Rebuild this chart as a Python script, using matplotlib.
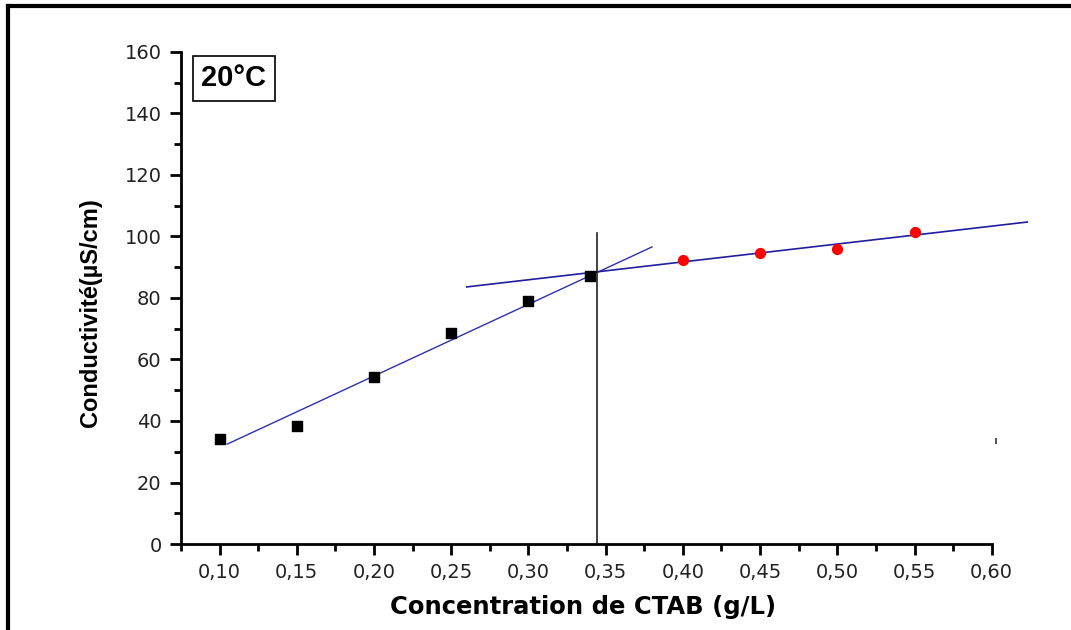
import matplotlib.pyplot as plt
from matplotlib.ticker import MultipleLocator, FuncFormatter
from matplotlib.lines import Line2D

plt.rcParams['font.family'] = ['Liberation Sans', 'DejaVu Sans']

# measured points (pre-CMC in black, post-CMC in red)
conc_low = [0.10, 0.15, 0.20, 0.25, 0.30, 0.34]
cond_low = [34.1, 38.4, 54.3, 68.6, 79.0, 87.2]
conc_high = [0.40, 0.45, 0.50, 0.55]
cond_high = [92.4, 94.6, 95.9, 101.5]

# fitted lines (end points)
fit1_x = [0.105, 0.38]
fit1_y = [32.5, 96.6]
fit2_x = [0.26, 0.623]
fit2_y = [83.6, 104.7]

# CMC marker
cmc_x = 0.3445
cmc_top = 101.1

fig = plt.figure(figsize=(10.71, 6.30), dpi=100)
ax = fig.add_axes([0.169, 0.1365, 0.757, 0.781])

ax.plot(fit1_x, fit1_y, color='#3030b0', lw=1.0, zorder=2)
ax.plot(fit2_x, fit2_y, color='#1f1fa0', lw=1.2, zorder=2, clip_on=False)
ax.plot([cmc_x, cmc_x], [0, cmc_top], color='#222222', lw=1.2, zorder=2)

ax.scatter(conc_low, cond_low, marker='s', s=60, color='black', zorder=3)
ax.scatter(conc_high, cond_high, marker='o', s=50, color='#ff0000', zorder=3)

# small stray tick mark on the right
ax.plot([0.603], [33.5], marker='|', color='#333333', ms=5, mew=1.2, clip_on=False)

ax.set_xlim(0.075, 0.60)
ax.set_ylim(0, 160)

for s in ['top', 'right']:
    ax.spines[s].set_visible(False)
for s in ['left', 'bottom']:
    ax.spines[s].set_linewidth(2)

ax.xaxis.set_major_locator(MultipleLocator(0.05))
ax.xaxis.set_minor_locator(MultipleLocator(0.025))
ax.yaxis.set_major_locator(MultipleLocator(20))
ax.yaxis.set_minor_locator(MultipleLocator(10))
ax.xaxis.set_major_formatter(FuncFormatter(lambda v, p: f'{v:.2f}'.replace('.', ',')))
ax.tick_params(which='major', direction='out', length=8, width=2, labelsize=14,
               labelcolor='#222222', pad=6)
ax.tick_params(which='minor', direction='out', length=5, width=2)
for lab in ax.get_xticklabels() + ax.get_yticklabels():
    lab.set_family('DejaVu Sans')

ax.set_xlabel('Concentration de CTAB (g/L)', fontsize=17.5, fontweight='bold',
              family='DejaVu Sans', va='center')
ax.xaxis.set_label_coords(0.496, -0.128)
ax.set_ylabel('Conductivité(µS/cm)', fontsize=17, fontweight='bold', va='center')
ax.yaxis.set_label_coords(-0.112, 0.47)

ax.text(0.025, 0.975, '20°C', transform=ax.transAxes, fontsize=21, fontweight='bold',
        va='top', ha='left',
        bbox=dict(boxstyle='square,pad=0.3', fc='white', ec='black', lw=1.2))

# open frame around the figure (left and top)
fig.add_artist(Line2D([0.0075, 0.0075], [0, 0.991], color='black', lw=3, transform=fig.transFigure))
fig.add_artist(Line2D([0.0075, 1.0], [0.991, 0.991], color='black', lw=3, transform=fig.transFigure))

fig.savefig('out.png', dpi=100)
